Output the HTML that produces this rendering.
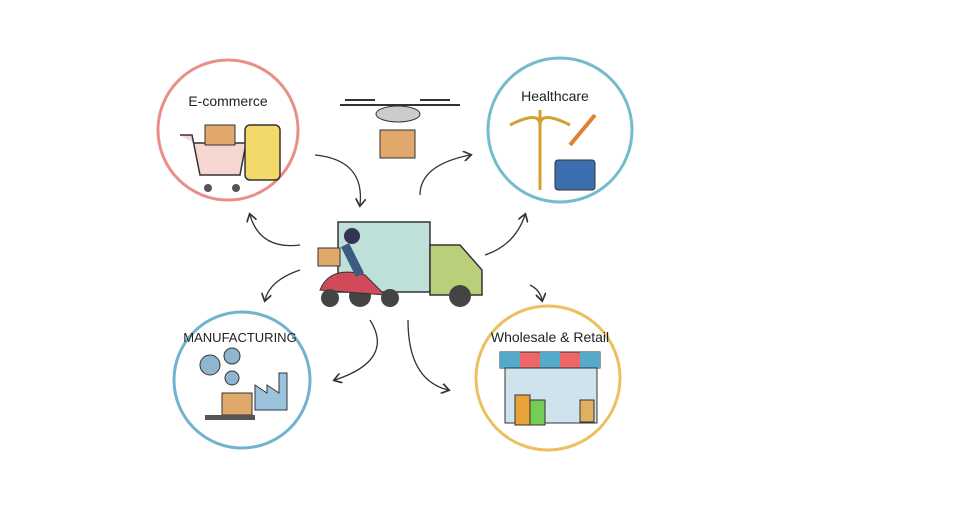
<!DOCTYPE html>
<html><head><meta charset="utf-8"><style>
html,body{margin:0;padding:0;background:#fff;width:960px;height:520px;overflow:hidden}
text{font-family:"Liberation Sans",sans-serif;fill:#222}
</style></head><body>
<svg width="960" height="520" viewBox="0 0 960 520" xmlns="http://www.w3.org/2000/svg">
<defs><marker id="a" markerWidth="8" markerHeight="8" refX="5" refY="4" orient="auto"><path d="M0,0 L6,4 L0,8" fill="none" stroke="#333" stroke-width="1.3"/></marker></defs>
<circle cx="228" cy="130" r="70" fill="#fff" stroke="#e89088" stroke-width="3"/>
<circle cx="560" cy="130" r="72" fill="#fff" stroke="#72bccb" stroke-width="3"/>
<circle cx="242" cy="380" r="68" fill="#fff" stroke="#70b2cf" stroke-width="3"/>
<circle cx="548" cy="378" r="72" fill="#fff" stroke="#ecc060" stroke-width="3"/>
<text x="228" y="106" font-size="14" text-anchor="middle">E-commerce</text>
<text x="555" y="101" font-size="14" text-anchor="middle">Healthcare</text>
<text x="240" y="342" font-size="13" text-anchor="middle">MANUFACTURING</text>
<text x="550" y="342" font-size="14" text-anchor="middle">Wholesale &amp; Retail</text>
<path d="M180 135 h12 l8 40 h40 l6-32 h-52" fill="#f6d6d0" stroke="#333" stroke-width="1.5"/>
<rect x="205" y="125" width="30" height="20" fill="#e0a86a" stroke="#333"/>
<rect x="245" y="125" width="35" height="55" rx="5" fill="#f3d86a" stroke="#333" stroke-width="1.5"/>
<circle cx="208" cy="188" r="4" fill="#555"/><circle cx="236" cy="188" r="4" fill="#555"/>
<path d="M540 110 v80 M510 125 q30 -15 30 0 q0 -15 30 0" stroke="#d4a030" stroke-width="3" fill="none"/>
<rect x="555" y="160" width="40" height="30" rx="3" fill="#3d6fb0" stroke="#333"/>
<path d="M570 145 l25 -30" stroke="#e08030" stroke-width="4"/>
<circle cx="210" cy="365" r="10" fill="#8fb6cf" stroke="#333"/><circle cx="232" cy="356" r="8" fill="#8fb6cf" stroke="#333"/><circle cx="232" cy="378" r="7" fill="#8fb6cf" stroke="#333"/>
<path d="M255 410 v-25 l12 8 v-8 l12 8 v-20 h8 v37z" fill="#9cc3dd" stroke="#333"/>
<rect x="222" y="393" width="30" height="22" fill="#e0a86a" stroke="#333"/>
<rect x="205" y="415" width="50" height="5" fill="#555"/>
<path d="M500 352 h100 v16 h-100z" fill="#e66" stroke="#333"/>
<path d="M500 352 h20 v16 h-20z M540 352 h20 v16 h-20z M580 352 h20 v16h-20z" fill="#5ac"/>
<rect x="505" y="368" width="92" height="55" fill="#cfe3ec" stroke="#333"/>
<rect x="515" y="395" width="15" height="30" fill="#e9a23a" stroke="#333"/><rect x="530" y="400" width="15" height="25" fill="#7c5" stroke="#333"/>
<rect x="580" y="400" width="14" height="22" fill="#e0b060" stroke="#333"/>
<path d="M340 105 h120 M345 100 h30 M420 100 h30" stroke="#333" stroke-width="2"/>
<ellipse cx="398" cy="114" rx="22" ry="8" fill="#ccc" stroke="#333"/>
<rect x="380" y="130" width="35" height="28" fill="#e0a86a" stroke="#333"/>
<path d="M338 222 h92 v70 h-92z" fill="#bfe0d8" stroke="#333" stroke-width="1.5"/>
<path d="M430 245 h30 l22 25 v25 h-52z" fill="#b9cf7a" stroke="#333" stroke-width="1.5"/>
<circle cx="360" cy="296" r="11" fill="#444"/><circle cx="460" cy="296" r="11" fill="#444"/>
<path d="M320 290 q10 -25 45 -15 l20 20 z" fill="#d04a5a" stroke="#333"/>
<circle cx="330" cy="298" r="9" fill="#444"/><circle cx="390" cy="298" r="9" fill="#444"/>
<rect x="318" y="248" width="22" height="18" fill="#e0a86a" stroke="#333"/>
<circle cx="352" cy="236" r="8" fill="#335"/>
<path d="M345 245 l15 30" stroke="#3d5a80" stroke-width="9"/>
<g fill="none" stroke="#333" stroke-width="1.3" marker-end="url(#a)">
<path d="M315 155 q50 5 45 50"/>
<path d="M420 195 q0 -30 50 -40"/>
<path d="M300 245 q-40 5 -50 -30"/>
<path d="M485 255 q30 -10 40 -40"/>
<path d="M300 270 q-30 10 -35 30"/>
<path d="M530 285 q10 5 12 15"/>
<path d="M370 320 q25 40 -35 60"/>
<path d="M408 320 q0 60 40 70"/>
</g>
</svg>
</body></html>
